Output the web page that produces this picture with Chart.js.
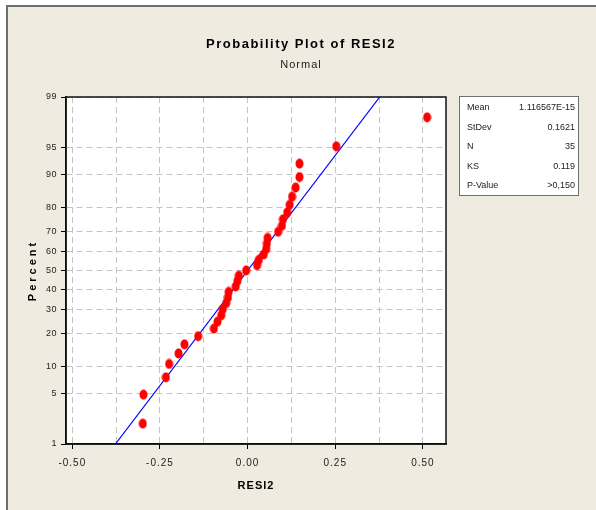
<!DOCTYPE html>
<html>
<head>
<meta charset="utf-8">
<title>Probability Plot of RESI2</title>
<script src="https://cdn.jsdelivr.net/npm/chart.js@4.4.1/dist/chart.umd.min.js"></script>
<style>
  html, body { margin: 0; padding: 0; background: #fff; }
  canvas { display: block; }
</style>
</head>
<body>
<canvas id="probPlot" width="596" height="510"></canvas>
<script>
// sorted residuals and the percent each one is plotted at
var residuals = [-0.299, -0.297, -0.233, -0.224, -0.197, -0.180, -0.141, -0.096, -0.086,
  -0.075, -0.071, -0.061, -0.056, -0.054, -0.034, -0.029, -0.025, -0.004,
  0.027, 0.032, 0.046, 0.053, 0.055, 0.057, 0.087, 0.098, 0.101, 0.113, 0.120,
  0.127, 0.137, 0.148, 0.148, 0.253, 0.512];
var percents = [2.0, 4.8, 7.6, 10.5, 13.3, 16.1, 18.9, 21.8, 24.6,
  27.4, 30.2, 33.1, 35.9, 38.7, 41.5, 44.4, 47.2, 50.0,
  52.8, 55.6, 58.5, 61.3, 64.1, 66.9, 69.8, 72.6, 75.4, 78.2, 81.1,
  83.9, 86.7, 89.5, 92.4, 95.2, 98.0];

// fitted normal line (ends at 1% and 99%)
var fitX = [-0.377, 0.377];
var fitPct = [1, 99];

var xGridValues = [-0.5, -0.375, -0.25, -0.125, 0, 0.125, 0.25, 0.375, 0.5];
var xLabelValues = [-0.5, -0.25, 0, 0.25, 0.5];
var yTickValues = [1, 5, 10, 20, 30, 40, 50, 60, 70, 80, 90, 95, 99];

var statNames = ['Mean', 'StDev', 'N', 'KS', 'P-Value'];
var statValues = ['1.116567E-15', '0.1621', '35', '0.119', '>0,150'];

var FONT = '"Liberation Sans", Arial, sans-serif';

// inverse normal cdf (Acklam)
function probit(p) {
  var a = [-3.969683028665376e+01, 2.209460984245205e+02, -2.759285104469687e+02, 1.383577518672690e+02, -3.066479806614716e+01, 2.506628277459239e+00];
  var b = [-5.447609879822406e+01, 1.615858368580409e+02, -1.556989798598866e+02, 6.680131188771972e+01, -1.328068155288572e+01];
  var c = [-7.784894002430293e-03, -3.223964580411365e-01, -2.400758277161838e+00, -2.549732539343734e+00, 4.374664141464968e+00, 2.938163982698783e+00];
  var d = [7.784695709041462e-03, 3.224671290700398e-01, 2.445134137142996e+00, 3.754408661907416e+00];
  var q, r;
  if (p < 0.02425) {
    q = Math.sqrt(-2 * Math.log(p));
    return (((((c[0]*q+c[1])*q+c[2])*q+c[3])*q+c[4])*q+c[5]) / ((((d[0]*q+d[1])*q+d[2])*q+d[3])*q+1);
  }
  if (p > 1 - 0.02425) {
    q = Math.sqrt(-2 * Math.log(1 - p));
    return -(((((c[0]*q+c[1])*q+c[2])*q+c[3])*q+c[4])*q+c[5]) / ((((d[0]*q+d[1])*q+d[2])*q+d[3])*q+1);
  }
  q = p - 0.5; r = q * q;
  return (((((a[0]*r+a[1])*r+a[2])*r+a[3])*r+a[4])*r+a[5])*q / (((((b[0]*r+b[1])*r+b[2])*r+b[3])*r+b[4])*r+1);
}

function normCdf(z) {
  var t = 1 / (1 + 0.3275911 * Math.abs(z) / Math.SQRT2);
  var e = 1 - (((((1.061405429*t - 1.453152027)*t) + 1.421413741)*t - 0.284496736)*t + 0.254829592)*t * Math.exp(-z*z/2);
  return z >= 0 ? (1 + e) / 2 : (1 - e) / 2;
}

// letter spacing per scale, the minitab fonts are tracked out
var spacing = {
  x: { ticks: '1px', title: '1px' },
  y: { ticks: '0.5px', title: '3px' }
};
var titleSpacing = { 'Probability Plot of RESI2': '1.5px', 'Normal': '1px' };

function withSpacing(ctx, ls, fn) {
  ctx.save();
  ctx.letterSpacing = ls || '0px';
  fn();
  ctx.restore();
}

class SpacedLinearScale extends Chart.LinearScale {
  drawLabels(area) {
    var s = spacing[this.id] || {};
    withSpacing(this.ctx, s.ticks, () => super.drawLabels(area));
  }
  drawTitle() {
    var s = spacing[this.id] || {};
    withSpacing(this.ctx, s.title, () => super.drawTitle());
  }
}
SpacedLinearScale.id = 'spacedLinear';

// normal probability axis: values are percents, placed by their z score
class ProbitScale extends SpacedLinearScale {
  getPixelForValue(value) {
    var lo = probit(this.min / 100), hi = probit(this.max / 100);
    return this.getPixelForDecimal((probit(value / 100) - lo) / (hi - lo));
  }
  getValueForPixel(pixel) {
    var lo = probit(this.min / 100), hi = probit(this.max / 100);
    return normCdf(lo + this.getDecimalForPixel(pixel) * (hi - lo)) * 100;
  }
}
ProbitScale.id = 'probit';

Chart.register(SpacedLinearScale, ProbitScale);

function dotImage() {
  var c = document.createElement('canvas');
  c.width = 9; c.height = 11;
  var g = c.getContext('2d');
  g.fillStyle = '#ff0000';
  g.beginPath();
  g.ellipse(4.5, 5.5, 4, 5, 0, 0, Math.PI * 2);
  g.fill();
  return c;
}

var framePlugin = {
  id: 'frame',
  beforeDraw: function(chart) {
    var ctx = chart.ctx, a = chart.chartArea;
    chart.boxes.forEach(function(box) {
      if (box.options && typeof box.options.text === 'string' && !box._spaced) {
        var orig = box.draw;
        box.draw = function() {
          var self = this, args = arguments;
          withSpacing(self.ctx, titleSpacing[self.options.text], function() { orig.apply(self, args); });
        };
        box._spaced = true;
      }
    });
    ctx.save();
    ctx.fillStyle = '#ffffff';
    ctx.fillRect(0, 0, chart.width, chart.height);
    ctx.fillStyle = '#efebe1';
    ctx.fillRect(7, 6, chart.width - 7, chart.height - 6);
    ctx.fillStyle = '#6e6e6e';
    ctx.fillRect(6, 5, 2, chart.height - 5);
    ctx.fillRect(6, 5, chart.width - 6, 2);
    ctx.fillStyle = '#ffffff';
    ctx.fillRect(a.left, a.top, a.right - a.left, a.bottom - a.top);
    ctx.restore();
  },
  beforeDatasetsDraw: function(chart) {
    var ctx = chart.ctx, a = chart.chartArea;
    ctx.save();
    ctx.strokeStyle = '#111';
    ctx.lineWidth = 1.5;
    ctx.strokeRect(a.left, a.top, a.right - a.left, a.bottom - a.top);
    ctx.restore();
  },
  afterDraw: function(chart) {
    var ctx = chart.ctx;
    ctx.save();
    ctx.letterSpacing = '0px';
    ctx.fillStyle = '#ffffff';
    ctx.fillRect(459, 96, 120, 100);
    ctx.strokeStyle = '#6e6e6e';
    ctx.lineWidth = 1;
    ctx.strokeRect(459.5, 96.5, 119, 99);
    ctx.font = '9px ' + FONT;
    ctx.fillStyle = '#222';
    ctx.textBaseline = 'middle';
    for (var i = 0; i < statNames.length; i++) {
      var y = 108 + i * 19.5;
      ctx.textAlign = 'left';
      ctx.fillText(statNames[i], 467, y);
      ctx.textAlign = 'right';
      ctx.fillText(statValues[i], 575, y);
    }
    ctx.restore();
  }
};

var points = residuals.map(function(r, i) { return { x: r, y: percents[i] }; });
var fitLine = fitX.map(function(v, i) { return { x: v, y: fitPct[i] }; });

var config = {
  type: 'scatter',
  data: {
    datasets: [{
      label: 'RESI2',
      data: points,
      pointStyle: dotImage(),
      pointRadius: 4,
      pointHoverRadius: 4
    }, {
      label: 'Fit',
      data: fitLine,
      showLine: true,
      borderColor: '#0000ff',
      borderWidth: 1.2,
      pointRadius: 0,
      pointHoverRadius: 0
    }]
  },
  options: {
    responsive: false,
    animation: false,
    events: [],
    layout: { padding: { left: 6, right: 0, top: 0, bottom: 0 } },
    plugins: {
      legend: { display: false },
      tooltip: { enabled: false },
      title: {
        display: true,
        text: 'Probability Plot of RESI2',
        color: '#000',
        font: { family: FONT, size: 13, weight: 'bold', lineHeight: 1.2 },
        padding: { top: 37, bottom: 6 }
      },
      subtitle: {
        display: true,
        text: 'Normal',
        color: '#222',
        font: { family: FONT, size: 11, weight: 'normal', lineHeight: 1.2 },
        padding: { top: 0, bottom: 25.2 }
      }
    },
    scales: {
      x: {
        type: 'spacedLinear',
        min: -0.518,
        max: 0.566,
        afterBuildTicks: function(s) {
          s.ticks = xGridValues.map(function(v) { return { value: v }; });
        },
        afterFit: function(s) { s.height = 66; },
        grid: {
          color: '#c4c4c4',
          lineWidth: 1,
          tickLength: 5,
          tickColor: function(ctx) {
            return xLabelValues.indexOf(ctx.tick.value) >= 0 ? '#000' : 'rgba(0,0,0,0)';
          }
        },
        border: { color: '#000', width: 1.5, dash: [6, 4] },
        ticks: {
          color: '#222',
          padding: 8,
          maxRotation: 0,
          autoSkip: false,
          font: { family: FONT, size: 10 },
          callback: function(v) {
            return xLabelValues.indexOf(v) >= 0 ? v.toFixed(2) : '';
          }
        },
        title: {
          display: true,
          text: 'RESI2',
          color: '#000',
          font: { family: FONT, size: 11, weight: 'bold', lineHeight: 1.2 },
          padding: { top: 0, bottom: 17.4 }
        }
      },
      y: {
        type: 'probit',
        min: 1,
        max: 99,
        afterBuildTicks: function(s) {
          s.ticks = yTickValues.map(function(v) { return { value: v }; });
        },
        afterFit: function(s) { s.width = 60; },
        grid: { color: '#c4c4c4', lineWidth: 1, tickLength: 5, tickColor: '#000' },
        border: { color: '#000', width: 1.5, dash: [6, 4] },
        ticks: {
          color: '#222',
          padding: 4,
          autoSkip: false,
          font: { family: FONT, size: 9 },
          callback: function(v) { return String(v); }
        },
        title: {
          display: true,
          text: 'Percent',
          color: '#000',
          font: { family: FONT, size: 11, weight: 'bold', lineHeight: 1.2 },
          padding: { top: 20.4, bottom: 0 }
        }
      },
      // empty right-hand strip that holds the statistics box
      side: {
        type: 'linear',
        position: 'right',
        display: true,
        grid: { display: false, drawTicks: false },
        border: { display: false },
        ticks: { display: false },
        afterFit: function(s) { s.width = 150; }
      }
    }
  },
  plugins: [framePlugin]
};

var probChart = new Chart(document.getElementById('probPlot'), config);
</script>
</body>
</html>
